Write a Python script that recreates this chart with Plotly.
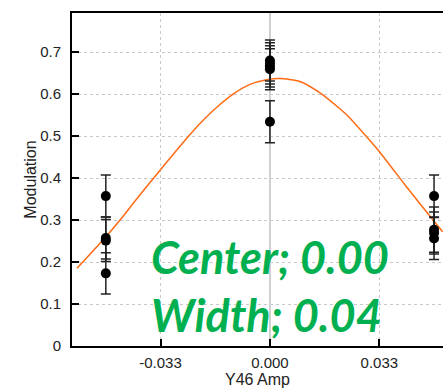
import plotly.graph_objects as go

# measured points
x_pts = [-0.0495, -0.0495, -0.0495, -0.0495,
         0.0, 0.0, 0.0, 0.0, 0.0,
         0.0495, 0.0495, 0.0495, 0.0495]
y_pts = [0.357, 0.257, 0.251, 0.173,
         0.680, 0.673, 0.666, 0.659, 0.534,
         0.357, 0.277, 0.269, 0.256]
y_err = [0.050, 0.050, 0.050, 0.049,
         0.049, 0.049, 0.049, 0.049, 0.050,
         0.050, 0.054, 0.050, 0.050]

# fitted curve
x_fit = [-0.0582, -0.0496, -0.0452, -0.0396, -0.0332, -0.0245, -0.0211, -0.0151,
         -0.0111, -0.0060, -0.0010, 0.0030, 0.0090, 0.0151, 0.0211, 0.0236,
         0.0332, 0.0407, 0.0487, 0.0521]
y_fit = [0.185, 0.259, 0.300, 0.356, 0.418, 0.500, 0.530, 0.575,
         0.600, 0.623, 0.634, 0.637, 0.630, 0.603, 0.565, 0.547,
         0.461, 0.384, 0.305, 0.272]

x_tickvals = [-0.033, 0.0, 0.033]
x_ticktext = ["-0.033", "0.000", "0.033"]
y_tickvals = [0, 0.1, 0.2, 0.3, 0.4, 0.5, 0.6, 0.7]
y_ticktext = ["0", "0.1", "0.2", "0.3", "0.4", "0.5", "0.6", "0.7"]

fig = go.Figure()
fig.add_trace(go.Scatter(
    x=x_fit, y=y_fit, mode="lines",
    line=dict(color="#FF6A13", width=1.5, shape="spline", smoothing=0.6),
    hoverinfo="skip", showlegend=False))
fig.add_trace(go.Scatter(
    x=x_pts, y=y_pts, mode="markers",
    marker=dict(color="black", size=10),
    error_y=dict(type="data", array=y_err, visible=True, color="#222222", thickness=1.5, width=5),
    showlegend=False))

green = dict(family="Lato", size=45, color="#00B050", weight="bold", style="italic")
fig.add_annotation(text="Center; 0.00", x=-0.0366, y=0.211, xref="x", yref="y",
                   xanchor="left", yanchor="middle", showarrow=False, font=green)
fig.add_annotation(text="Width; 0.04", x=-0.0366, y=0.073, xref="x", yref="y",
                   xanchor="left", yanchor="middle", showarrow=False, font=green)

axis_font = dict(family="Liberation Sans, Arial", size=15, color="#222222")
fig.update_layout(
    width=443, height=388,
    margin=dict(l=72, r=0, t=13, b=42),
    plot_bgcolor="white", paper_bgcolor="white",
    font=axis_font,
    xaxis=dict(
        range=[-0.0597, 0.0522], tickvals=x_tickvals, ticktext=x_ticktext,
        ticks="inside", ticklen=7, tickwidth=1.5, tickcolor="black",
        showline=True, linecolor="black", linewidth=2, mirror=True,
        showgrid=True, gridcolor="#c8c8c8", griddash="dot", gridwidth=1,
        zeroline=True, zerolinecolor="#d0d0d0", zerolinewidth=1.5,
        title=dict(text="Y46 Amp", font=dict(size=16), standoff=9),
        automargin=False, ticklabelstandoff=2,
    ),
    yaxis=dict(
        range=[0, 0.793], tickvals=y_tickvals, ticktext=y_ticktext,
        ticks="inside", ticklen=7, tickwidth=1.5, tickcolor="black",
        showline=True, linecolor="black", linewidth=2, mirror=False,
        showgrid=True, gridcolor="#c8c8c8", griddash="dot", gridwidth=1,
        zeroline=False,
        title=dict(text="Modulation", font=dict(size=16), standoff=0),
        automargin=False, ticklabelstandoff=6,
    ),
)

fig.write_html("out.html")
